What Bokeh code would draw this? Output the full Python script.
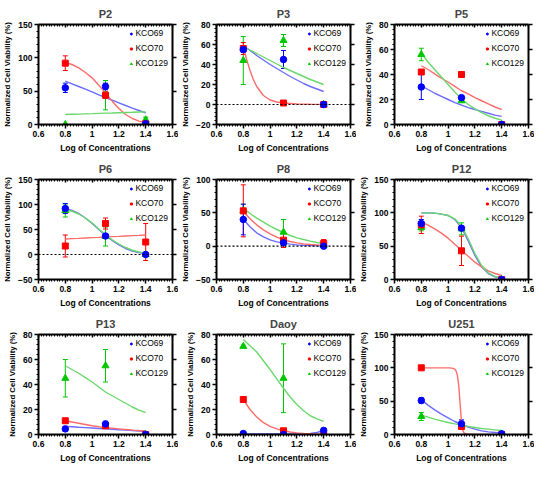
from bokeh.plotting import figure
from bokeh.layouts import gridplot
from bokeh.models import (LinearAxis, Whisker, ColumnDataSource, Span, Range1d,
                          FixedTicker, TeeHead, Legend, LegendItem,
                          CustomLabelingPolicy, CustomJSTickFormatter)
from bokeh.embed import file_html
from bokeh.resources import INLINE

# ---------------- data ----------------
PANELS = ["P2", "P3", "P5", "P6", "P8", "P12", "P13", "Daoy", "U251"]
SERIES = ["KCO69", "KCO70", "KCO129"]
X_DOSE = [0.8, 1.1, 1.4]
CURVE_X = [0.8, 0.85, 0.9, 0.95, 1.0, 1.05, 1.1, 1.15, 1.2, 1.25, 1.3, 1.35, 1.4]
X_TICKS = [0.6, 0.8, 1.0, 1.2, 1.4, 1.6]

Y_RANGE = {"P2": (0, 150), "P3": (-20, 80), "P5": (0, 80), "P6": (-50, 150),
           "P8": (-50, 100), "P12": (0, 150), "P13": (0, 80), "Daoy": (0, 80),
           "U251": (0, 150)}
Y_TICKS = {"P2": [0, 50, 100, 150], "P3": [-20, 0, 20, 40, 60, 80],
           "P5": [0, 20, 40, 60, 80], "P6": [-50, 0, 50, 100, 150],
           "P8": [-50, 0, 50, 100], "P12": [0, 50, 100, 150],
           "P13": [0, 20, 40, 60, 80], "Daoy": [0, 20, 40, 60, 80],
           "U251": [0, 50, 100, 150]}
ZERO_LINE = ["P3", "P6", "P8"]

# means / error (SD) per series  [KCO69, KCO70, KCO129]
P2_MEAN = [[55, 57, 1], [92, 44, 1], [0, 44, 7]]
P2_ERR = [[7, 5, 0], [11, 5, 0], [0, 22, 4]]
P2_FIT = [[65, 61, 57, 53, 49, 44.5, 40.5, 36.5, 32.5, 28.5, 24.5, 21, 17.5],
          [93, 90, 85, 78, 70, 59, 47, 35, 24, 15, 9, 5, 3],
          [15, 15.3, 15.6, 16, 16.3, 16.7, 17, 17.3, 17.7, 18, 18.3, 18.7, 19]]

P3_MEAN = [[55, 45, 0], [56, 1.5, 0], [44, 64, 0]]
P3_ERR = [[3, 9, 0], [6, 0.5, 0], [24, 6, 0]]
P3_FIT = [[59, 54, 49, 44.5, 40, 36, 32, 28, 24.5, 21, 18, 15.5, 13],
          None,
          [58, 54.5, 51, 47.5, 44, 40.5, 37, 34, 31, 28, 25, 22.5, 20]]
P3_KCO70_FIT_X = [0.8, 0.825, 0.85, 0.875, 0.9, 0.95, 1.0, 1.05, 1.1, 1.2, 1.3, 1.4]
P3_KCO70_FIT_Y = [57, 45, 34, 25, 18, 9, 4.5, 2.5, 1.5, 0.5, 0.2, 0.1]

P5_MEAN = [[30, 21.5, 0], [42, 40, 0], [56, 19, 0]]
P5_ERR = [[10, 1.5, 0], [2, 0, 0], [5, 1, 0]]
P5_FIT = [[31, 28, 25, 22.5, 20, 17.5, 15.5, 13.5, 12, 10.5, 9, 7.5, 6.5],
          [47, 44, 40.5, 37, 34, 30.5, 27, 24.5, 21.5, 19, 16.5, 14, 12],
          [57, 50, 44, 38, 32, 26, 20.5, 16, 12.5, 9.5, 7, 5, 3.5]]

P6_MEAN = [[92, 37, 0], [17, 62, 25], [88, 36, 0]]
P6_ERR = [[10, 3, 0], [22, 11, 37], [13, 19, 0]]
P6_FIT = [[92, 88, 82, 73, 62, 50, 38, 28, 19, 12, 7, 4, 2],
          [31, 31.7, 32.3, 33, 33.7, 34.3, 35, 35.7, 36.3, 37, 37.7, 38.3, 39],
          [90, 86.5, 81, 73, 63, 51, 39.5, 29.5, 21, 14, 8.5, 5, 2.5]]

P8_MEAN = [[40, 5, 0], [53, 9, 4], [53, 21, 1]]
P8_ERR = [[23, 3, 0], [39, 11, 6], [10, 19, 1]]
P8_FIT = [[40, 29, 20, 14, 9.5, 6.5, 4.5, 3, 2, 1.3, 0.9, 0.6, 0.4],
          [52, 41, 32, 24.5, 18.5, 13.5, 9.5, 7, 5, 3.5, 2.5, 1.7, 1.2],
          [57, 49, 42, 36, 30, 25, 20.5, 16, 12.5, 10, 7.5, 5.5, 4]]

P12_MEAN = [[84, 77, 0], [82, 43, 0], [78, 76, 0]]
P12_ERR = [[6, 3, 0], [13, 22, 0], [5, 9, 0]]
P12_FIT = [[100, 100, 99.5, 98, 96, 90, 78, 58, 36, 19, 9, 4, 2],
           [86, 81.5, 76, 69.5, 62, 53, 44, 35, 26, 19, 13, 9, 6],
           [100, 100, 99.5, 98, 96, 91, 80, 61, 39, 21, 10, 4.5, 2]]

P13_MEAN = [[4.5, 8.5, 0], [11, 7, 0], [45, 55, 0]]
P13_ERR = [[2, 2, 0], [1, 1, 0], [15, 13, 0]]
P13_FIT = [[6.5, 6.2, 5.8, 5.5, 5.2, 4.8, 4.5, 4.2, 3.8, 3.5, 3.2, 2.8, 2.5],
           [11, 10, 9, 8, 7, 6.2, 5.5, 5, 4.5, 4, 3.5, 3.2, 3],
           [55, 52, 49, 45.5, 42, 38, 34, 31, 28, 25, 22, 19.5, 17.5]]

DAOY_MEAN = [[0.8, 0, 3.3], [28, 3, 0], [70.5, 45, 0]]
DAOY_ERR = [[1, 0.5, 1], [1, 1, 0], [1, 27.5, 0]]
DAOY_FIT = [[0.5, 0.5, 0.5, 0.5, 0.5, 0.5, 0.5, 0.5, 0.5, 0.6, 0.9, 1.6, 3.3],
            [28, 20, 14, 9.5, 6.5, 4.5, 3, 2, 1.3, 0.9, 0.6, 0.4, 0.3],
            [76, 71, 66, 59, 52, 44.5, 37, 30, 24, 19, 15, 12.5, 10.5]]

U251_MEAN = [[51, 16, 1], [100, 12, 0], [27, 14, 0.5]]
U251_ERR = [[4, 6, 0], [0.5, 2, 0], [6, 2, 0]]
U251_FIT = [[52, 44, 37, 30.5, 25, 19.5, 15, 11, 8, 5.5, 4, 3, 2],
            None,
            [29, 26, 23, 20.5, 18, 16, 14, 12, 10.5, 9, 8, 7, 6]]
U251_KCO70_FIT_X = [0.8, 0.9, 1.0, 1.03, 1.05, 1.06, 1.07, 1.08, 1.09, 1.1,
                    1.11, 1.12, 1.15, 1.2, 1.3, 1.4]
U251_KCO70_FIT_Y = [100, 100, 100, 99.5, 98, 95, 88, 72, 45, 18, 6, 2, 0.3, 0, 0, 0]

DATA = {
    "P2": (P2_MEAN, P2_ERR, P2_FIT),
    "P3": (P3_MEAN, P3_ERR, P3_FIT),
    "P5": (P5_MEAN, P5_ERR, P5_FIT),
    "P6": (P6_MEAN, P6_ERR, P6_FIT),
    "P8": (P8_MEAN, P8_ERR, P8_FIT),
    "P12": (P12_MEAN, P12_ERR, P12_FIT),
    "P13": (P13_MEAN, P13_ERR, P13_FIT),
    "Daoy": (DAOY_MEAN, DAOY_ERR, DAOY_FIT),
    "U251": (U251_MEAN, U251_ERR, U251_FIT),
}
SHARP_FITS = {("P3", 1): (P3_KCO70_FIT_X, P3_KCO70_FIT_Y),
              ("U251", 1): (U251_KCO70_FIT_X, U251_KCO70_FIT_Y)}

# ---------------- styling ----------------
MARK_COLORS = ["#0000FF", "#FF0000", "#00C800"]
LINE_COLORS = ["#6B6BFF", "#FF6B6B", "#6BD86B"]
MARKERS = ["circle", "square", "triangle"]
MARK_SIZES = [6.5, 6, 7]
FONT = "Liberation Sans"

NO_LABELS = "const a = [...indices]; for (const i of a) indices.unset(i); return indices"


def minor_from(ticks, n):
    out = []
    for a, b in zip(ticks[:-1], ticks[1:]):
        step = (b - a) / n
        out += [a + step * k for k in range(1, n)]
    return out


def style_axis(ax, labels=True):
    ax.axis_line_width = 2
    ax.axis_line_color = "black"
    ax.major_tick_line_width = 1.5
    ax.minor_tick_line_width = 1
    ax.major_tick_line_color = "black"
    ax.minor_tick_line_color = "black"
    if labels:
        ax.major_label_text_font = FONT
        ax.major_label_text_font_style = "bold"
        ax.major_label_text_font_size = "8.5px"
        ax.major_label_text_color = "black"
        ax.major_label_standoff = 2
        ax.axis_label_text_font = FONT
        ax.axis_label_text_font_style = "bold"
        ax.axis_label_text_color = "black"
        ax.axis_label_standoff = 3
    else:
        ax.formatter = CustomJSTickFormatter(code="return ''")
        ax.major_label_policy = CustomLabelingPolicy(code=NO_LABELS)
        ax.major_label_standoff = 0


def make_panel(name):
    means, errs, fits = DATA[name]
    y0, y1 = Y_RANGE[name]
    p = figure(width=178, height=155, x_range=Range1d(0.6, 1.6),
               y_range=Range1d(y0, y1), output_backend="svg",
               toolbar_location=None, title=name,
               min_border_left=33, min_border_right=6,
               min_border_top=4, min_border_bottom=4)
    p.title.align = "center"
    p.title.text_font = FONT
    p.title.text_font_style = "bold"
    p.title.text_font_size = "11px"
    p.title.offset = 0
    p.title.standoff = 10
    p.outline_line_color = None
    p.xgrid.visible = False
    p.ygrid.visible = False
    p.background_fill_color = "white"
    p.border_fill_color = "white"

    xt = FixedTicker(ticks=X_TICKS, minor_ticks=minor_from(X_TICKS, 10))
    yt = FixedTicker(ticks=Y_TICKS[name], minor_ticks=minor_from(Y_TICKS[name], 5))

    xa = p.xaxis[0]
    xa.ticker = xt
    xa.axis_label = "Log of Concentrations"
    style_axis(xa)
    xa.axis_label_text_font_size = "8.5px"
    xa.major_tick_out = 4
    xa.major_tick_in = 0
    xa.minor_tick_out = 2
    xa.minor_tick_in = 0

    ya = p.yaxis[0]
    ya.ticker = yt
    ya.axis_label = "Normalized Cell Viability (%)"
    style_axis(ya)
    ya.axis_label_text_font_size = "7.8px"
    ya.major_tick_out = 4
    ya.major_tick_in = 0
    ya.minor_tick_out = 2
    ya.minor_tick_in = 0

    top = LinearAxis(ticker=xt)
    style_axis(top, labels=False)
    top.major_tick_in = 3
    top.major_tick_out = 0
    top.minor_tick_in = 2
    top.minor_tick_out = 0
    p.add_layout(top, "above")

    right = LinearAxis(ticker=yt)
    style_axis(right, labels=False)
    right.major_tick_out = 4
    right.major_tick_in = 0
    right.minor_tick_out = 0
    right.minor_tick_in = 0
    p.add_layout(right, "right")

    if name in ZERO_LINE:
        p.add_layout(Span(location=0, dimension="width", line_color="black",
                          line_width=1.2, line_dash="2 2"))

    # fitted curves
    for i in range(3):
        if (name, i) in SHARP_FITS:
            fx, fy = SHARP_FITS[(name, i)]
        else:
            fx, fy = CURVE_X, fits[i]
        p.line(fx, fy, line_color=LINE_COLORS[i], line_width=1.4)

    # error bars + markers, drawn KCO129, KCO70, KCO69 (blue on top)
    rend = {}
    for i in [2, 1, 0]:
        c = MARK_COLORS[i]
        xs = [x for x, e in zip(X_DOSE, errs[i]) if e > 0]
        ms = [m for m, e in zip(means[i], errs[i]) if e > 0]
        es = [e for e in errs[i] if e > 0]
        src = ColumnDataSource(dict(x=xs,
                                    upper=[m + e for m, e in zip(ms, es)],
                                    lower=[m - e for m, e in zip(ms, es)]))
        w = Whisker(source=src, base="x", upper="upper", lower="lower",
                    line_color=c, line_width=1,
                    upper_head=TeeHead(size=5, line_color=c, line_width=1),
                    lower_head=TeeHead(size=5, line_color=c, line_width=1))
        p.add_layout(w)
        rend[i] = p.scatter(X_DOSE, means[i], marker=MARKERS[i],
                            size=MARK_SIZES[i], fill_color=c, line_color=c)

    legend = Legend(items=[LegendItem(label=SERIES[i], renderers=[rend[i]])
                           for i in range(3)],
                    location="top_right")
    legend.background_fill_alpha = 0
    legend.border_line_alpha = 0
    legend.label_text_font = FONT
    legend.label_text_font_size = "8.5px"
    legend.label_text_color = "black"
    legend.label_height = 9
    legend.glyph_height = 9
    legend.glyph_width = 5
    legend.spacing = 5
    legend.padding = 1
    legend.margin = 3
    legend.label_standoff = 2
    p.add_layout(legend)
    return p


plots = [make_panel(n) for n in PANELS]
grid = gridplot(plots, ncols=3, toolbar_location=None)

open("out.html", "w").write(file_html(grid, INLINE))
